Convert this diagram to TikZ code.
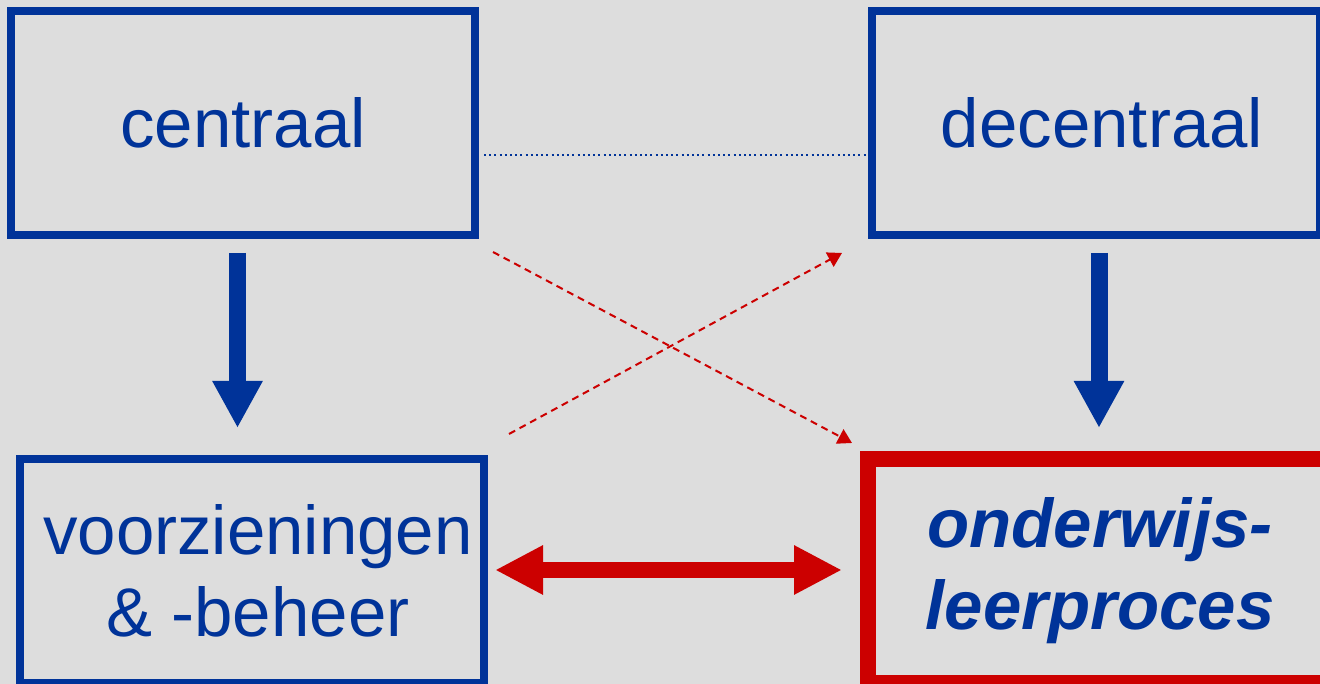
\documentclass[tikz,border=0pt]{standalone}
\usepackage{fontspec}
\setmainfont{Liberation Sans}
\usetikzlibrary{arrows.meta}
\definecolor{boxblue}{HTML}{003399}
\definecolor{boxred}{HTML}{CC0000}
\definecolor{bggray}{HTML}{DDDDDD}

\begin{document}
\begin{tikzpicture}[x=1pt,y=1pt,
  box/.style={draw=boxblue, line width=8pt, minimum width=464pt, minimum height=224pt,
    inner sep=0pt, text=boxblue, align=center, font=\fontsize{69}{82}\selectfont},
  redbox/.style={box, draw=boxred, line width=16pt, font=\fontsize{69}{82}\selectfont\bfseries\itshape},
  bigarrow/.style={draw=boxblue, line width=17pt, -{Triangle[width=47pt,length=47pt]}},
  twoway/.style={draw=boxred, line width=16pt,
    {Triangle[width=46pt,length=48pt]}-{Triangle[width=46pt,length=48pt]}},
  crossarrow/.style={draw=boxred, line width=2pt, dash pattern=on 7pt off 5pt,
    -{Triangle[width=16pt,length=14pt]}},
  dotline/.style={draw=boxblue, line width=2pt, dash pattern=on 2pt off 3.2pt}]

\fill[bggray] (0,0) rectangle (1320,684);
\useasboundingbox (0,0) rectangle (1320,684);

\node[box] (centraal) at (243,561) {centraal};
\node[box, minimum width=448pt] (decentraal) at (1096,561) {\hspace*{12pt}decentraal};
\node[box] (voorz) at (252,113) {\hspace*{12pt}voorzieningen\\\hspace*{12pt}\& -beheer};
\node[redbox] (onderwijs) at (1100,113) {onderwijs-\\leerproces};

\draw[dotline, shorten <=5pt, shorten >=2pt]
  ([yshift=-32pt]centraal.east) -- ([yshift=-32pt]decentraal.west);

\draw[bigarrow, shorten <=14pt, shorten >=27pt]
  ([xshift=-5.5pt]centraal.south) -- ([xshift=-5.5pt]centraal.south |- voorz.north);
\draw[bigarrow, shorten <=14pt, shorten >=23pt]
  ([xshift=3pt]decentraal.south) -- ([xshift=3pt]decentraal.south |- onderwijs.north);

\coordinate (c1) at ([xshift=14pt,yshift=-13pt]centraal.south east);
\coordinate (o1) at ([xshift=-8pt,yshift=8pt]onderwijs.north west);
\coordinate (v1) at ([xshift=21pt,yshift=21pt]voorz.north east);
\coordinate (d1) at ([xshift=-26pt,yshift=-14pt]decentraal.south west);
\draw[crossarrow] (c1) -- (o1);
\draw[crossarrow] (v1) -- (d1);

\draw[twoway, shorten <=7pt, shorten >=18pt] ([yshift=1pt]voorz.east) -- ([yshift=1pt]voorz.east -| onderwijs.west);
\end{tikzpicture}
\end{document}
